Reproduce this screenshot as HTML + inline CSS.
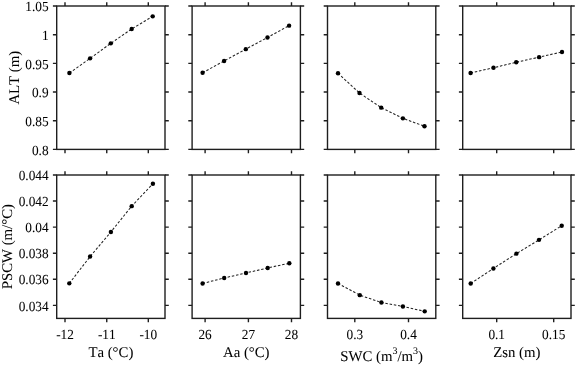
<!DOCTYPE html>
<html><head><meta charset="utf-8"><style>
html,body{margin:0;padding:0;background:#fff;}
svg{display:block;will-change:transform;}
text{font-family:"Liberation Serif",serif;fill:#000;stroke:#000;stroke-width:0.05px;font-kerning:none;text-rendering:geometricPrecision;}
.t{font-size:13.3px;}
.l{font-size:14.8px;}
</style></head><body>
<svg width="575" height="365" viewBox="0 0 575 365">
<rect x="56.7" y="6.0" width="108.3" height="143.4" fill="none" stroke="#1e1e1e" stroke-width="1.4"/>
<path d="M65.0 149.4v3.8M65.0 6.0v-3.8M106.75 149.4v3.8M106.75 6.0v-3.8M148.3 149.4v3.8M148.3 6.0v-3.8M56.7 149.40h-3.8M165.00 149.40h3.8M56.7 120.72h-3.8M165.00 120.72h3.8M56.7 92.04h-3.8M165.00 92.04h3.8M56.7 63.36h-3.8M165.00 63.36h3.8M56.7 34.68h-3.8M165.00 34.68h3.8M56.7 6.00h-3.8M165.00 6.00h3.8" stroke="#1e1e1e" stroke-width="1.4" fill="none"/>
<path d="M69.39999999999999 73.05 L90.1 58.35 L110.8 43.35 L131.7 28.95 L152.7 16.35" stroke="#222" stroke-width="1.05" fill="none" stroke-dasharray="2.5 1.8"/>
<circle cx="69.39999999999999" cy="73.05" r="2.2" fill="#000"/>
<circle cx="90.1" cy="58.35" r="2.2" fill="#000"/>
<circle cx="110.8" cy="43.35" r="2.2" fill="#000"/>
<circle cx="131.7" cy="28.95" r="2.2" fill="#000"/>
<circle cx="152.7" cy="16.35" r="2.2" fill="#000"/>
<rect x="192.1" y="6.0" width="108.3" height="143.4" fill="none" stroke="#1e1e1e" stroke-width="1.4"/>
<path d="M205.1 149.4v3.8M205.1 6.0v-3.8M248.4 149.4v3.8M248.4 6.0v-3.8M291.5 149.4v3.8M291.5 6.0v-3.8M192.1 149.40h-3.8M300.40 149.40h3.8M192.1 120.72h-3.8M300.40 120.72h3.8M192.1 92.04h-3.8M300.40 92.04h3.8M192.1 63.36h-3.8M300.40 63.36h3.8M192.1 34.68h-3.8M300.40 34.68h3.8M192.1 6.00h-3.8M300.40 6.00h3.8" stroke="#1e1e1e" stroke-width="1.4" fill="none"/>
<path d="M202.6 72.75 L224.1 60.95 L245.79999999999998 49.15 L267.5 37.45 L289.1 25.65" stroke="#222" stroke-width="1.05" fill="none" stroke-dasharray="2.5 1.8"/>
<circle cx="202.6" cy="72.75" r="2.2" fill="#000"/>
<circle cx="224.1" cy="60.95" r="2.2" fill="#000"/>
<circle cx="245.79999999999998" cy="49.15" r="2.2" fill="#000"/>
<circle cx="267.5" cy="37.45" r="2.2" fill="#000"/>
<circle cx="289.1" cy="25.65" r="2.2" fill="#000"/>
<rect x="327.5" y="6.0" width="108.3" height="143.4" fill="none" stroke="#1e1e1e" stroke-width="1.4"/>
<path d="M354.8 149.4v3.8M354.8 6.0v-3.8M408.5 149.4v3.8M408.5 6.0v-3.8M327.5 149.40h-3.8M435.80 149.40h3.8M327.5 120.72h-3.8M435.80 120.72h3.8M327.5 92.04h-3.8M435.80 92.04h3.8M327.5 63.36h-3.8M435.80 63.36h3.8M327.5 34.68h-3.8M435.80 34.68h3.8M327.5 6.00h-3.8M435.80 6.00h3.8" stroke="#1e1e1e" stroke-width="1.4" fill="none"/>
<path d="M338.0 73.25 L359.5 93.05 L381.20000000000005 107.65 L402.90000000000003 118.35 L424.5 126.25" stroke="#222" stroke-width="1.05" fill="none" stroke-dasharray="2.5 1.8"/>
<circle cx="338.0" cy="73.25" r="2.2" fill="#000"/>
<circle cx="359.5" cy="93.05" r="2.2" fill="#000"/>
<circle cx="381.20000000000005" cy="107.65" r="2.2" fill="#000"/>
<circle cx="402.90000000000003" cy="118.35" r="2.2" fill="#000"/>
<circle cx="424.5" cy="126.25" r="2.2" fill="#000"/>
<rect x="462.7" y="6.0" width="108.3" height="143.4" fill="none" stroke="#1e1e1e" stroke-width="1.4"/>
<path d="M496.7 149.4v3.8M496.7 6.0v-3.8M553.7 149.4v3.8M553.7 6.0v-3.8M462.7 149.40h-3.8M571.00 149.40h3.8M462.7 120.72h-3.8M571.00 120.72h3.8M462.7 92.04h-3.8M571.00 92.04h3.8M462.7 63.36h-3.8M571.00 63.36h3.8M462.7 34.68h-3.8M571.00 34.68h3.8M462.7 6.00h-3.8M571.00 6.00h3.8" stroke="#1e1e1e" stroke-width="1.4" fill="none"/>
<path d="M470.6 72.95 L493.5 67.75 L516.2 62.25 L539.1 57.15 L562.0 51.95" stroke="#222" stroke-width="1.05" fill="none" stroke-dasharray="2.5 1.8"/>
<circle cx="470.6" cy="72.95" r="2.2" fill="#000"/>
<circle cx="493.5" cy="67.75" r="2.2" fill="#000"/>
<circle cx="516.2" cy="62.25" r="2.2" fill="#000"/>
<circle cx="539.1" cy="57.15" r="2.2" fill="#000"/>
<circle cx="562.0" cy="51.95" r="2.2" fill="#000"/>
<rect x="56.7" y="175.0" width="108.3" height="143.4" fill="none" stroke="#1e1e1e" stroke-width="1.4"/>
<path d="M65.0 318.4v3.8M65.0 175.0v-3.8M106.75 318.4v3.8M106.75 175.0v-3.8M148.3 318.4v3.8M148.3 175.0v-3.8M56.7 305.36h-3.8M165.00 305.36h3.8M56.7 279.29h-3.8M165.00 279.29h3.8M56.7 253.22h-3.8M165.00 253.22h3.8M56.7 227.15h-3.8M165.00 227.15h3.8M56.7 201.07h-3.8M165.00 201.07h3.8M56.7 175.00h-3.8M165.00 175.00h3.8" stroke="#1e1e1e" stroke-width="1.4" fill="none"/>
<path d="M69.3 283.35 L90.1 256.55 L110.89999999999999 231.95 L131.7 206.15 L152.9 183.75" stroke="#222" stroke-width="1.05" fill="none" stroke-dasharray="2.5 1.8"/>
<circle cx="69.3" cy="283.35" r="2.2" fill="#000"/>
<circle cx="90.1" cy="256.55" r="2.2" fill="#000"/>
<circle cx="110.89999999999999" cy="231.95" r="2.2" fill="#000"/>
<circle cx="131.7" cy="206.15" r="2.2" fill="#000"/>
<circle cx="152.9" cy="183.75" r="2.2" fill="#000"/>
<rect x="192.1" y="175.0" width="108.3" height="143.4" fill="none" stroke="#1e1e1e" stroke-width="1.4"/>
<path d="M205.1 318.4v3.8M205.1 175.0v-3.8M248.4 318.4v3.8M248.4 175.0v-3.8M291.5 318.4v3.8M291.5 175.0v-3.8M192.1 305.36h-3.8M300.40 305.36h3.8M192.1 279.29h-3.8M300.40 279.29h3.8M192.1 253.22h-3.8M300.40 253.22h3.8M192.1 227.15h-3.8M300.40 227.15h3.8M192.1 201.07h-3.8M300.40 201.07h3.8M192.1 175.00h-3.8M300.40 175.00h3.8" stroke="#1e1e1e" stroke-width="1.4" fill="none"/>
<path d="M202.6 283.45 L224.2 277.95 L246.0 272.95 L267.70000000000005 267.95 L289.3 263.25" stroke="#222" stroke-width="1.05" fill="none" stroke-dasharray="2.5 1.8"/>
<circle cx="202.6" cy="283.45" r="2.2" fill="#000"/>
<circle cx="224.2" cy="277.95" r="2.2" fill="#000"/>
<circle cx="246.0" cy="272.95" r="2.2" fill="#000"/>
<circle cx="267.70000000000005" cy="267.95" r="2.2" fill="#000"/>
<circle cx="289.3" cy="263.25" r="2.2" fill="#000"/>
<rect x="327.5" y="175.0" width="108.3" height="143.4" fill="none" stroke="#1e1e1e" stroke-width="1.4"/>
<path d="M354.8 318.4v3.8M354.8 175.0v-3.8M408.5 318.4v3.8M408.5 175.0v-3.8M327.5 305.36h-3.8M435.80 305.36h3.8M327.5 279.29h-3.8M435.80 279.29h3.8M327.5 253.22h-3.8M435.80 253.22h3.8M327.5 227.15h-3.8M435.80 227.15h3.8M327.5 201.07h-3.8M435.80 201.07h3.8M327.5 175.00h-3.8M435.80 175.00h3.8" stroke="#1e1e1e" stroke-width="1.4" fill="none"/>
<path d="M338.0 283.45 L359.8 295.15 L381.40000000000003 302.55 L402.90000000000003 306.45 L424.70000000000005 311.35" stroke="#222" stroke-width="1.05" fill="none" stroke-dasharray="2.5 1.8"/>
<circle cx="338.0" cy="283.45" r="2.2" fill="#000"/>
<circle cx="359.8" cy="295.15" r="2.2" fill="#000"/>
<circle cx="381.40000000000003" cy="302.55" r="2.2" fill="#000"/>
<circle cx="402.90000000000003" cy="306.45" r="2.2" fill="#000"/>
<circle cx="424.70000000000005" cy="311.35" r="2.2" fill="#000"/>
<rect x="462.7" y="175.0" width="108.3" height="143.4" fill="none" stroke="#1e1e1e" stroke-width="1.4"/>
<path d="M496.7 318.4v3.8M496.7 175.0v-3.8M553.7 318.4v3.8M553.7 175.0v-3.8M462.7 305.36h-3.8M571.00 305.36h3.8M462.7 279.29h-3.8M571.00 279.29h3.8M462.7 253.22h-3.8M571.00 253.22h3.8M462.7 227.15h-3.8M571.00 227.15h3.8M462.7 201.07h-3.8M571.00 201.07h3.8M462.7 175.00h-3.8M571.00 175.00h3.8" stroke="#1e1e1e" stroke-width="1.4" fill="none"/>
<path d="M470.70000000000005 283.45 L493.40000000000003 268.45 L516.4 253.65 L539.0 239.85 L561.7 225.75" stroke="#222" stroke-width="1.05" fill="none" stroke-dasharray="2.5 1.8"/>
<circle cx="470.70000000000005" cy="283.45" r="2.2" fill="#000"/>
<circle cx="493.40000000000003" cy="268.45" r="2.2" fill="#000"/>
<circle cx="516.4" cy="253.65" r="2.2" fill="#000"/>
<circle cx="539.0" cy="239.85" r="2.2" fill="#000"/>
<circle cx="561.7" cy="225.75" r="2.2" fill="#000"/>
<text transform="translate(48.60,154.60) scale(1,1.045)" text-anchor="end" class="t">0.8</text>
<text transform="translate(48.60,125.92) scale(1,1.045)" text-anchor="end" class="t">0.85</text>
<text transform="translate(48.60,97.24) scale(1,1.045)" text-anchor="end" class="t">0.9</text>
<text transform="translate(48.60,68.56) scale(1,1.045)" text-anchor="end" class="t">0.95</text>
<text transform="translate(48.60,39.88) scale(1,1.045)" text-anchor="end" class="t">1</text>
<text transform="translate(48.60,11.20) scale(1,1.045)" text-anchor="end" class="t">1.05</text>
<text transform="translate(48.60,310.56) scale(1,1.045)" text-anchor="end" class="t">0.034</text>
<text transform="translate(48.60,284.49) scale(1,1.045)" text-anchor="end" class="t">0.036</text>
<text transform="translate(48.60,258.42) scale(1,1.045)" text-anchor="end" class="t">0.038</text>
<text transform="translate(48.60,232.35) scale(1,1.045)" text-anchor="end" class="t">0.04</text>
<text transform="translate(48.60,206.27) scale(1,1.045)" text-anchor="end" class="t">0.042</text>
<text transform="translate(48.60,180.20) scale(1,1.045)" text-anchor="end" class="t">0.044</text>
<text transform="translate(65.00,339.20) scale(1,1.045)" text-anchor="middle" class="t">-12</text>
<text transform="translate(106.75,339.20) scale(1,1.045)" text-anchor="middle" class="t">-11</text>
<text transform="translate(148.30,339.20) scale(1,1.045)" text-anchor="middle" class="t">-10</text>
<text transform="translate(205.10,339.20) scale(1,1.045)" text-anchor="middle" class="t">26</text>
<text transform="translate(248.40,339.20) scale(1,1.045)" text-anchor="middle" class="t">27</text>
<text transform="translate(291.50,339.20) scale(1,1.045)" text-anchor="middle" class="t">28</text>
<text transform="translate(354.80,339.20) scale(1,1.045)" text-anchor="middle" class="t">0.3</text>
<text transform="translate(408.50,339.20) scale(1,1.045)" text-anchor="middle" class="t">0.4</text>
<text transform="translate(496.70,339.20) scale(1,1.045)" text-anchor="middle" class="t">0.1</text>
<text transform="translate(553.70,339.20) scale(1,1.045)" text-anchor="middle" class="t">0.15</text>
<text transform="translate(110.85,356.60) scale(1,1.0)" text-anchor="middle" class="l">Ta (°C)</text>
<text transform="translate(246.25,356.60) scale(1,1.0)" text-anchor="middle" class="l">Aa (°C)</text>
<text transform="translate(381.65,361.00) scale(1,1.0)" text-anchor="middle" class="l">SWC (m<tspan dy="-7.5" font-size="10">3</tspan><tspan dy="7.5">/m</tspan><tspan dy="-7.5" font-size="10">3</tspan><tspan dy="7.5">)</tspan></text>
<text transform="translate(516.85,356.60) scale(1,1.0)" text-anchor="middle" class="l">Zsn (m)</text>
<text transform="translate(18.9,77.70) rotate(-90)" text-anchor="middle" class="l">ALT (m)</text>
<text transform="translate(11.9,246.70) rotate(-90)" text-anchor="middle" class="l">PSCW (m/°C)</text>
</svg>
</body></html>
